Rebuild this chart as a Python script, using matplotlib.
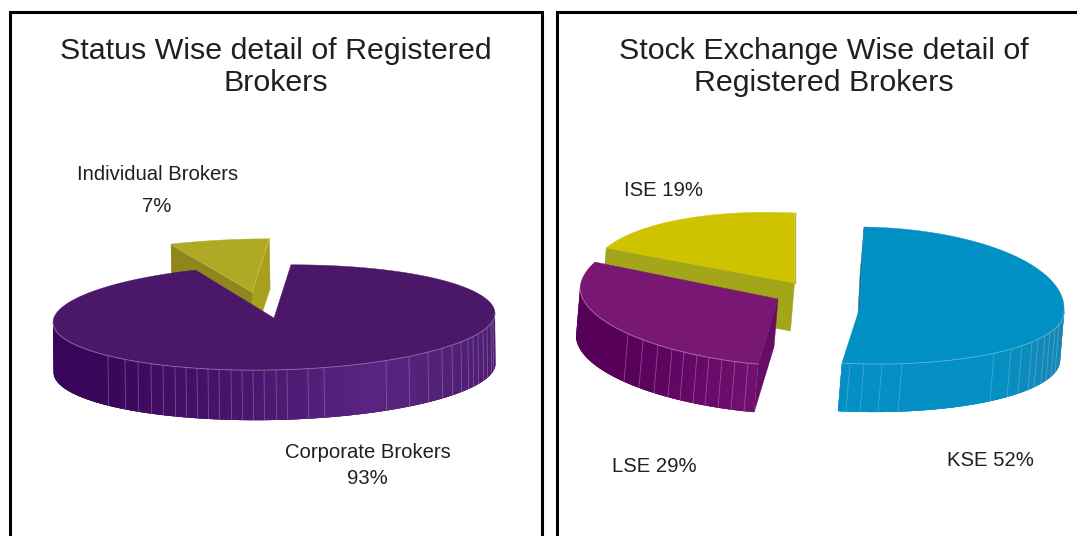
import numpy as np
import matplotlib
matplotlib.use("Agg")
import matplotlib.pyplot as plt
from matplotlib.colors import to_rgb

plt.rcParams['font.family'] = ['Liberation Sans', 'DejaVu Sans']

status_categories = ['Corporate Brokers', 'Individual Brokers']
status_values = [93, 7]
exchange_categories = ['KSE', 'LSE', 'ISE']
exchange_values = [52, 29, 19]
status_title = 'Status Wise detail of Registered\nBrokers'
exchange_title = 'Stock Exchange Wise detail of\nRegistered Brokers'

INK = '#231f20'
fig = plt.figure(figsize=(10.77, 5.36), dpi=100)
ax = fig.add_axes([0, 0, 1, 1])
ax.set_xlim(0, 1077)
ax.set_ylim(536, 0)
ax.axis('off')


def rim(theta, g):
    t = np.radians(theta)
    s, c = np.sin(t), np.cos(t)
    b = np.where(s >= 0, g['b'], g['bf'])
    cc = np.where(s >= 0, g['cb'], g['cf'])
    return g['ax'] + g['rx'] * c + b * s, g['ay'] - cc * s + g['d'] * c


def ramp(x, stops):
    xs = [p[0] for p in stops]
    rgb = np.array([to_rgb(p[1]) for p in stops])
    return tuple(np.interp(x, xs, rgb[:, i]) for i in range(3))


def draw_slice(a0, a1, g, z):
    """a0 -> a1 clockwise (a1 < a0), in degrees."""
    dx, dy = g['dep']
    apex = (g['ax'], g['ay'])
    sx, sy = rim(a0, g)
    ex, ey = rim(a1, g)
    if g.get('start_face'):
        ax.fill([sx, apex[0], apex[0] + dx, sx + dx], [sy, apex[1], apex[1] + dy, sy + dy],
                fc=g['start_face'], ec=g['start_face'], lw=0.3, zorder=z)
    if g.get('end_face'):
        ax.fill([ex, apex[0], apex[0] + dx, ex + dx], [ey, apex[1], apex[1] + dy, ey + dy],
                fc=g['end_face'], ec=g['end_face'], lw=0.3, zorder=z)
    t = np.linspace(a0, a1, 900)
    vis = t[np.sin(np.radians(t)) <= 0.0]
    vx, vy = rim(vis, g)
    if g.get('side') and len(vis) > 1:
        # painter's order: each band overlaps the following ones, so no seams show
        n = len(vis)
        step = max(n // 70, 1)
        seq = range(0, n - 1, step)
        for i in seq:
            j = min(i + 3 * step, n - 1)
            xs = np.r_[vx[i:j + 1], vx[i:j + 1][::-1] + dx]
            ys = np.r_[vy[i:j + 1], vy[i:j + 1][::-1] + dy]
            col = ramp(vx[min(i + step // 2, n - 1)], g['side'])
            ax.fill(xs, ys, fc=col, ec='none', lw=0, zorder=z + 0.1)
        order = np.argsort(vx)
        for lx in g.get('ticks', []):
            ly = np.interp(lx, vx[order], vy[order])
            ax.plot([lx, lx + dx], [ly, ly + dy], color=g['hl'], lw=0.6, alpha=0.5,
                    zorder=z + 0.2, solid_capstyle='butt')
    ax_, ay_ = rim(t, g)
    ax.fill(np.r_[apex[0], ax_], np.r_[apex[1], ay_], fc=g['top'], ec=g['top'], lw=0.3, zorder=z + 0.3)
    if g.get('side') and len(vis) > 1:
        ax.plot(vx, vy, color=g['hl'], lw=0.6, alpha=0.75, zorder=z + 0.4)


def draw_pie(values, start, geoms, zorders):
    edges = start - np.cumsum(np.r_[0, values]) / np.sum(values) * 360.0
    for k, g in enumerate(geoms):
        draw_slice(edges[k], edges[k + 1], g, zorders[k])


left_base = dict(rx=221, cb=53, cf=52, b=0, bf=0, d=-4.5, dep=(0.6, 50))
corporate = dict(left_base, ax=274, ay=318, top='#4b1869', hl='#a78fbb',
                 side=[(53, '#39055a'), (108, '#3b065a'), (370, '#5a2580'), (496, '#4e1d72')],
                 ticks=[108, 125, 138, 151, 163, 175, 186, 197, 208, 219, 231, 242, 253, 264, 276, 287,
                        308, 324, 386, 409, 428, 442, 452, 461, 468, 473, 478, 483, 487, 491, 493])
individual = dict(left_base, ax=252, ay=292, rx=228, top='#b0a926', hl='#d8d46a',
                  start_face='#8f861c', end_face='#a6a01e')
draw_pie(status_values, 85.6, [corporate, individual], [5, 2])
ax.plot([252, 269], [292, 239], color='#cfca5a', lw=0.4, zorder=2.5)
ax.plot([171, 252], [245, 292], color='#cfca5a', lw=0.3, zorder=2.5)

shear = (-4, 48)
kse = dict(ax=860, ay=307, rx=204, cb=80, cf=57, b=4, bf=-7.5, d=3, dep=shear, top='#0190c3', hl='#7cc4de',
           start_face='#0b7397',
           side=[(838, '#0490c4'), (1000, '#0490c4'), (1064, '#1a86b3')],
           ticks=[850, 864, 882, 902, 994, 1011, 1022, 1032, 1038, 1045, 1050, 1055, 1059])
lse = dict(ax=778, ay=299, rx=198, cb=75, cf=67, b=3, bf=-5, d=10, dep=shear, top='#791873', hl='#c090c0',
           start_face='#650d67',
           side=[(575, '#56005a'), (628, '#56005a'), (755, '#72106f')],
           ticks=[628, 643, 658, 672, 684, 697, 709, 722, 735, 748])
ise = dict(ax=794.5, ay=283, rx=202.5, cb=70, cf=62, b=0, bf=0, d=10, dep=shear, top='#cfc300', hl='#dcd860',
           start_face='#a2a618')
draw_pie(exchange_values, 90.0, [kse, lse, ise], [8, 5, 2])
ax.plot([794.5, 794.5], [213, 283], color='#b7b52a', lw=1.0, zorder=3)

# frames
frame = dict(color='black', lw=2.2, solid_joinstyle='miter', zorder=10)
ax.plot([10, 10, 542, 542], [536, 12, 12, 536], **frame)
ax.plot([557, 557, 1077], [536, 12, 12], **frame)

# titles
ax.text(276, 67, status_title, ha='center', va='center', fontsize=21.9, color=INK, linespacing=1.2)
ax.text(824, 67, exchange_title, ha='center', va='center', fontsize=21.9, color=INK, linespacing=1.2)

# labels
lab = dict(ha='center', va='center', fontsize=14.6, color=INK)
ax.text(158, 175, status_categories[1], **lab)
ax.text(157, 207, f'{status_values[1]}%', **lab)
ax.text(367.5, 452, status_categories[0], **lab)
ax.text(367, 478, f'{status_values[0]}%', **lab)
ax.text(663, 190, f'{exchange_categories[2]} {exchange_values[2]}%', **lab)
ax.text(654, 466, f'{exchange_categories[1]} {exchange_values[1]}%', **lab)
ax.text(990, 461, f'{exchange_categories[0]} {exchange_values[0]}%', **lab)

fig.savefig('out.png', dpi=100)
